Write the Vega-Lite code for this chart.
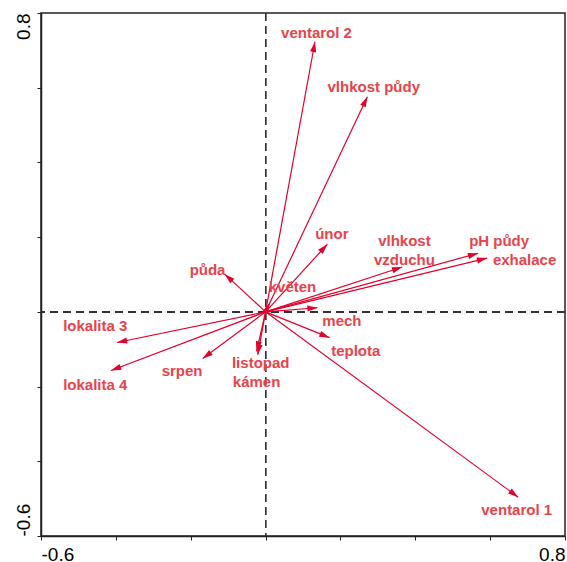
{
  "$schema": "https://vega.github.io/schema/vega-lite/v6.json",
  "width": 524,
  "height": 523,
  "autosize": {"type": "none"},
  "padding": {"left": 41, "top": 13, "right": 2, "bottom": 26},
  "background": "white",
  "config": {
    "view": {"stroke": "#222", "strokeWidth": 1.5},
    "axis": {
      "grid": false,
      "title": null,
      "domainColor": "#222",
      "domainWidth": 1.5,
      "tickColor": "#222",
      "tickSize": 4,
      "labelFont": "Liberation Sans",
      "labelFontSize": 19,
      "labelColor": "#000",
      "labelOverlap": false
    }
  },
  "datasets": {
    "arrows": [
      {"name": "ventarol 2", "x": 0.132, "y": 0.723, "lx": 0.136, "ly": 0.747},
      {"name": "vlhkost půdy", "x": 0.272, "y": 0.576, "lx": 0.289, "ly": 0.603},
      {"name": "únor", "x": 0.165, "y": 0.181, "lx": 0.177, "ly": 0.208},
      {"name": "vlhkost\nvzduchu", "x": 0.365, "y": 0.12, "lx": 0.371, "ly": 0.191},
      {"name": "pH půdy", "x": 0.568, "y": 0.157, "lx": 0.624, "ly": 0.189},
      {"name": "exhalace", "x": 0.592, "y": 0.144, "lx": 0.692, "ly": 0.139},
      {"name": "půda", "x": -0.109, "y": 0.101, "lx": -0.155, "ly": 0.112},
      {"name": "květen", "x": 0.011, "y": 0.024, "lx": 0.072, "ly": 0.067},
      {"name": "mech", "x": 0.139, "y": 0.011, "lx": 0.204, "ly": -0.024},
      {"name": "teplota", "x": 0.171, "y": -0.069, "lx": 0.241, "ly": -0.104},
      {"name": "listopad", "x": -0.021, "y": -0.115, "lx": -0.013, "ly": -0.136},
      {"name": "kámen", "x": -0.024, "y": -0.106, "lx": -0.024, "ly": -0.189},
      {"name": "srpen", "x": -0.168, "y": -0.125, "lx": -0.223, "ly": -0.157},
      {"name": "lokalita 3", "x": -0.397, "y": -0.082, "lx": -0.455, "ly": -0.037},
      {"name": "lokalita 4", "x": -0.413, "y": -0.157, "lx": -0.455, "ly": -0.197},
      {"name": "ventarol 1", "x": 0.675, "y": -0.496, "lx": 0.671, "ly": -0.531}
    ]
  },
  "data": {"name": "arrows"},
  "layer": [
    {
      "mark": {"type": "rule", "stroke": "#333", "strokeWidth": 1, "strokeDash": [8, 5]},
      "encoding": {
        "x": {
          "datum": 0,
          "type": "quantitative",
          "scale": {"domain": [-0.6, 0.8], "nice": false, "zero": false},
          "axis": {
            "values": [-0.6, -0.4, -0.2, 0, 0.2, 0.4, 0.6, 0.8],
            "labelExpr": "datum.value < -0.5 ? '-0.6' : (datum.value > 0.7 ? '0.8' : '')",
            "labelFlush": true,
            "labelPadding": 5
          }
        }
      }
    },
    {
      "mark": {"type": "rule", "stroke": "#333", "strokeWidth": 1, "strokeDash": [8, 5]},
      "encoding": {
        "y": {
          "datum": 0,
          "type": "quantitative",
          "scale": {"domain": [-0.6, 0.8], "nice": false, "zero": false},
          "axis": {
            "values": [-0.6, -0.4, -0.2, 0, 0.2, 0.4, 0.6, 0.8],
            "labelExpr": "datum.value < -0.5 ? '-0.6' : (datum.value > 0.7 ? '0.8' : '')",
            "labelAngle": 270,
            "labelAlign": {"condition": {"test": "datum.value > 0", "value": "right"}, "value": "left"},
            "labelBaseline": "bottom",
            "labelPadding": 4
          }
        }
      }
    },
    {
      "mark": {"type": "rule", "stroke": "#e3002b", "strokeWidth": 1.2},
      "encoding": {
        "x": {"field": "x", "type": "quantitative"},
        "y": {"field": "y", "type": "quantitative"},
        "x2": {"datum": 0},
        "y2": {"datum": 0}
      }
    },
    {
      "transform": [{"calculate": "atan2(datum.x, datum.y) * 180 / PI", "as": "ang"}],
      "mark": {
        "type": "point",
        "shape": "M0,0L-0.3,1L0.3,1Z",
        "filled": true,
        "color": "#e3002b",
        "opacity": 1,
        "size": 420
      },
      "encoding": {
        "x": {"field": "x", "type": "quantitative"},
        "y": {"field": "y", "type": "quantitative"},
        "angle": {"field": "ang", "type": "quantitative", "scale": null}
      }
    },
    {
      "mark": {
        "type": "text",
        "font": "Liberation Sans",
        "fontWeight": "bold",
        "fontSize": 15,
        "color": "#e8434b",
        "align": "center",
        "baseline": "middle",
        "lineBreak": "\n",
        "lineHeight": 19
      },
      "encoding": {
        "x": {"field": "lx", "type": "quantitative"},
        "y": {"field": "ly", "type": "quantitative"},
        "text": {"field": "name"}
      }
    }
  ]
}
